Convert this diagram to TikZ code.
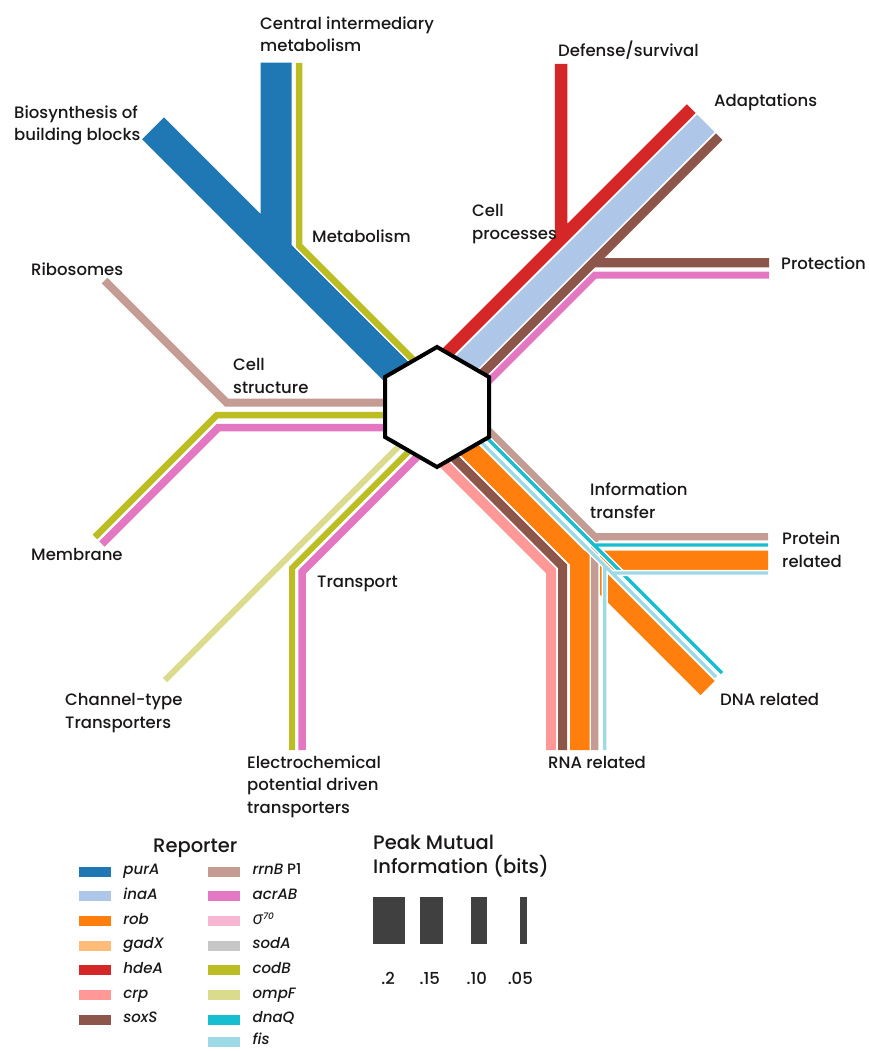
\documentclass[tikz,border=0pt]{standalone}
\usepackage{fontspec}
\setmainfont{Poppins}[UprightFont={* Medium}, ItalicFont={* Medium Italic}]
\newfontfamily\grkfont{Open Sans}
\usetikzlibrary{positioning}

% reporter colours
\definecolor{purA}{HTML}{1F77B4}
\definecolor{inaA}{HTML}{AEC7E8}
\definecolor{rob}{HTML}{FF7F0E}
\definecolor{gadX}{HTML}{FFBB78}
\definecolor{hdeA}{HTML}{D62728}
\definecolor{crp}{HTML}{FF9896}
\definecolor{soxS}{HTML}{8C564B}
\definecolor{rrnB}{HTML}{C49C94}
\definecolor{acrAB}{HTML}{E377C2}
\definecolor{sigma}{HTML}{F7B6D2}
\definecolor{sodA}{HTML}{C7C7C7}
\definecolor{codB}{HTML}{BCBD22}
\definecolor{ompF}{HTML}{DBDB8D}
\definecolor{dnaQ}{HTML}{17BECF}
\definecolor{fis}{HTML}{9EDAE5}
\definecolor{barc}{HTML}{404040}
\definecolor{ink}{HTML}{1A1718}

\newcommand{\lblfont}{\fontsize{16.5}{22.5}\selectfont}
\newcommand{\headfont}{\fontsize{19.5}{23.5}\selectfont}
\newcommand{\keyfont}{\fontsize{15}{16}\selectfont}
\newcommand{\tickfont}{\fontsize{16.5}{18}\selectfont}

\tikzset{
  flow/.style 2 args={draw=#1, line width=#2, preaction={draw=white, line width=#2+3pt}},
  lbl/.style={anchor=base west, align=left, inner sep=0pt, text=ink, font=\lblfont},
  swatch/.style={minimum width=32pt, minimum height=10pt, inner sep=0pt},
  keylbl/.style={anchor=west, inner sep=0pt, text=ink, font=\keyfont\itshape, text height=9pt, text depth=3pt},
  bar/.style={fill=barc, minimum height=47pt, inner sep=0pt},
  tick/.style={inner sep=0pt, text=ink, font=\tickfont, text height=11pt, text depth=0pt}
}

\begin{document}
\begin{tikzpicture}[x=1pt, y=-1pt]
    \useasboundingbox (0,0) rectangle (868,1051);
    % Metabolism
    \draw[flow={purA}{31pt}] (425,400.3) -- (153,128.3) (276,251.3) -- (276,62.7);
    \draw[flow={codB}{6.5pt}] (440,386.5) -- (299,245.5) -- (299,63);
    % Cell structure / Membrane
    \draw[flow={rrnB}{8pt}] (400,402.5) -- (226.5,402.5) -- (104.5,280.5);
    \draw[flow={codB}{6.5pt}] (400,415) -- (217,415) -- (95,537);
    \draw[flow={acrAB}{7.5pt}] (400,427.5) -- (218.5,427.5) -- (102,544);
    % Transport
    \draw[flow={ompF}{6pt}] (420,425) -- (165,680);
    \draw[flow={codB}{6pt}] (425,435) -- (292,568) -- (292,750);
    \draw[flow={acrAB}{7.5pt}] (430,444) -- (302,572) -- (302,750);
    % Cell processes
    \draw[flow={hdeA}{12.5pt}] (437,363) -- (691.2,108.7) (561,239) -- (561,64);
    \draw[flow={inaA}{24.8pt}] (450,379.5) -- (705.8,123.3);
    \draw[flow={soxS}{9.2pt}] (460,396) -- (719.2,136.7) (593,262.8) -- (769,262.8);
    \draw[flow={acrAB}{7pt}] (465,405) -- (595,275) -- (769,275);
    % Information transfer
    \draw[flow={crp}{10pt}] (435,455) -- (551,571) -- (551,750);
    \draw[flow={soxS}{9pt}] (445,448.7) -- (562.5,566.2) -- (562.5,750);
    \draw[flow={rob}{20pt}] (450,430.5) -- (580,560.5) -- (580,750)
        (580,560.5) -- (707.5,688) (580,560.5) -- (768,560.5);
    \draw[flow={rrnB}{7.3pt}] (460,402) -- (594.7,536.7) -- (594.7,750)
        (594.7,536.7) -- (768,536.7);
    \draw[flow={dnaQ}{3.3pt}] (460,411) -- (722,673) (594,545) -- (768,545);
    \draw[flow={fis}{3.3pt}] (455,416) -- (716,677) (604.7,565.7) -- (604.7,750)
        (612,573) -- (768,573);
    % Hub
    \coordinate (hub) at (437,407);
    \draw[line width=4pt, fill=white, line join=miter] (437,347) -- (489,377) -- (489,437)
        -- (437,467) -- (385,437) -- (385,377) -- cycle;

    % Category labels (base = last line)
    \node[lbl] (cim) at (260,52) {Central intermediary\\metabolism};
    \node[lbl] (bio) at (14,141) {Biosynthesis of\\building blocks};
    \node[lbl] (met) at (312,242) {Metabolism};
    \node[lbl] (ribo) at (31,275) {Ribosomes};
    \node[lbl] (cstr) at (233,393) {Cell\\structure};
    \node[lbl] (memb) at (31,560) {Membrane};
    \node[lbl] (chan) at (65,728) {Channel-type\\Transporters};
    \node[lbl] (trans) at (317,587) {Transport};
    \node[lbl] (elec) at (247,813) {Electrochemical\\potential driven\\transporters};
    \node[lbl] (def) at (558,57) {Defense/survival};
    \node[lbl] (adap) at (714,107) {Adaptations};
    \node[lbl] (cproc) at (472,239) {Cell\\processes};
    \node[lbl] (prot) at (781,269) {Protection};
    \node[lbl] (info) at (590,518) {Information\\transfer};
    \node[lbl] (prel) at (782,567) {Protein\\related};
    \node[lbl] (drel) at (720,705) {DNA related};
    \node[lbl] (rrel) at (548,768) {RNA related};

    % Reporter legend
    \node[lbl, font=\headfont] (rep) at (153,852) {Reporter};
    \node[swatch, fill=purA] (kpurA) at (95,871.7) {};
    \node[swatch, fill=inaA] (kinaA) at (95,896.3) {};
    \node[swatch, fill=rob] (krob) at (95,921) {};
    \node[swatch, fill=gadX] (kgadX) at (95,945.7) {};
    \node[swatch, fill=hdeA] (khdeA) at (95,970.3) {};
    \node[swatch, fill=crp] (kcrp) at (95,995) {};
    \node[swatch, fill=soxS] (ksoxS) at (95,1019.7) {};
    \node[keylbl, right=12pt of kpurA] (tpurA) {purA};
    \node[keylbl, right=12pt of kinaA] (tinaA) {inaA};
    \node[keylbl, right=12pt of krob] (trob) {rob};
    \node[keylbl, right=12pt of kgadX] (tgadX) {gadX};
    \node[keylbl, right=12pt of khdeA] (thdeA) {hdeA};
    \node[keylbl, right=12pt of kcrp] (tcrp) {crp};
    \node[keylbl, right=12pt of ksoxS] (tsoxS) {soxS};
    \node[swatch, fill=rrnB] (krrnB) at (224.2,871.7) {};
    \node[swatch, fill=acrAB] (kacrAB) at (224.2,896.3) {};
    \node[swatch, fill=sigma] (ksigma) at (224.2,921) {};
    \node[swatch, fill=sodA] (ksodA) at (224.2,945.7) {};
    \node[swatch, fill=codB] (kcodB) at (224.2,970.3) {};
    \node[swatch, fill=ompF] (kompF) at (224.2,995) {};
    \node[swatch, fill=dnaQ] (kdnaQ) at (224.2,1019.7) {};
    \node[swatch, fill=fis] (kfis) at (224.2,1041.7) {};
    \node[keylbl, right=12pt of krrnB] (trrnB) {rrnB\upshape{} P1};
    \node[keylbl, right=12pt of kacrAB] (tacrAB) {acrAB};
    \node[keylbl, right=12pt of ksigma] (tsigma) {{\grkfont\itshape\fontsize{18}{18}\selectfont σ}\raisebox{5pt}{\fontsize{9}{9}\selectfont 70}};
    \node[keylbl, right=12pt of ksodA] (tsodA) {sodA};
    \node[keylbl, right=12pt of kcodB] (tcodB) {codB};
    \node[keylbl, right=12pt of kompF] (tompF) {ompF};
    \node[keylbl, right=12pt of kdnaQ] (tdnaQ) {dnaQ};
    \node[keylbl, right=12pt of kfis] (tfis) {fis};

    % Peak mutual information
    \node[lbl, font=\headfont] (pmi) at (373,873) {Peak Mutual\\Information (bits)};
    \node[bar, minimum width=31.7pt] (b20) at (389.2,920.8) {};
    \node[bar, minimum width=23.3pt] (b15) at (431.7,920.8) {};
    \node[bar, minimum width=16pt] (b10) at (478.7,920.8) {};
    \node[bar, minimum width=6.7pt] (b05) at (523.3,920.8) {};
    \node[tick, below=29pt of b20, xshift=-1pt] (t20) {.2};
    \node[tick, below=29pt of b15, xshift=-2pt] (t15) {.15};
    \node[tick, below=29pt of b10, xshift=-2pt] (t10) {.10};
    \node[tick, below=29pt of b05, xshift=-3pt] (t05) {.05};
\end{tikzpicture}
\end{document}
